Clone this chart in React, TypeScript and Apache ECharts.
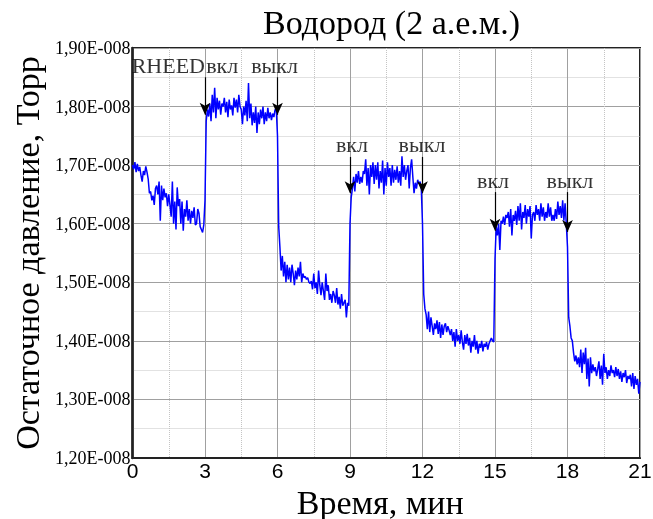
import React, { useEffect, useRef } from "react";
import * as echarts from "echarts";

// Time step between samples, minutes
const TIME_STEP = 0.05;

// Residual pressure, units of 1E-008 Torr, 0.05-min samples
const segA = [
  1.700, 1.693, 1.705, 1.688, 1.702, 1.690, 1.697, 1.683, 1.672, 1.690,
  1.683, 1.698, 1.688, 1.676, 1.652, 1.655, 1.640, 1.648, 1.632, 1.660,
  1.665, 1.650, 1.672, 1.605, 1.665, 1.640, 1.660, 1.645, 1.652, 1.630,
  1.650, 1.632, 1.612, 1.672, 1.600, 1.638, 1.590, 1.662, 1.630, 1.642,
  1.600, 1.638, 1.588, 1.625, 1.612, 1.640, 1.605, 1.625, 1.600, 1.622,
  1.610, 1.628, 1.598, 1.600, 1.625, 1.618, 1.595, 1.590, 1.585, 1.598,
];
const segB = [
  1.640, 1.775, 1.795, 1.783, 1.805, 1.775, 1.820, 1.790, 1.832, 1.780,
  1.815, 1.795, 1.810, 1.786, 1.805, 1.800, 1.815, 1.790, 1.808, 1.782,
  1.812, 1.795, 1.802, 1.785, 1.815, 1.798, 1.812, 1.790, 1.820, 1.800,
  1.795, 1.770, 1.800, 1.785, 1.810, 1.775, 1.840, 1.780, 1.805, 1.768,
  1.790, 1.772, 1.800, 1.755, 1.790, 1.770, 1.795, 1.780, 1.800, 1.770,
  1.790, 1.775, 1.798, 1.780, 1.790, 1.777, 1.788, 1.782, 1.795, 1.795,
];
const segC = [
  1.750, 1.595, 1.560, 1.520, 1.545, 1.510, 1.535, 1.500, 1.530, 1.505,
  1.525, 1.500, 1.530, 1.515, 1.495, 1.520, 1.505, 1.525, 1.510, 1.535,
  1.500, 1.515, 1.508, 1.510, 1.505, 1.508, 1.500, 1.498, 1.502, 1.488,
  1.515, 1.490, 1.500, 1.480, 1.520, 1.495, 1.478, 1.500, 1.485, 1.470,
  1.515, 1.485, 1.495, 1.470, 1.480, 1.465, 1.485, 1.478, 1.465, 1.490,
  1.462, 1.475, 1.455, 1.480, 1.460, 1.465, 1.470, 1.440, 1.465, 1.460,
];
const segD = [
  1.600, 1.645, 1.660, 1.680, 1.655, 1.685, 1.670, 1.690, 1.668, 1.680,
  1.670, 1.690, 1.685, 1.710, 1.665, 1.695, 1.650, 1.700, 1.680, 1.705,
  1.668, 1.700, 1.675, 1.705, 1.660, 1.690, 1.670, 1.708, 1.650, 1.695,
  1.665, 1.705, 1.680, 1.695, 1.665, 1.700, 1.670, 1.692, 1.675, 1.698,
  1.670, 1.690, 1.665, 1.715, 1.680, 1.700, 1.675, 1.690, 1.700, 1.660,
  1.695, 1.710, 1.680, 1.652, 1.670, 1.660, 1.675, 1.668, 1.672, 1.660,
];
const segE = [
  1.600, 1.480, 1.455, 1.445, 1.420, 1.450, 1.415, 1.440, 1.425, 1.410,
  1.430, 1.420, 1.435, 1.412, 1.432, 1.405, 1.428, 1.410, 1.425, 1.430,
  1.415, 1.425, 1.418, 1.410, 1.420, 1.400, 1.415, 1.390, 1.420, 1.400,
  1.410, 1.395, 1.418, 1.398, 1.385, 1.410, 1.395, 1.412, 1.392, 1.405,
  1.380, 1.400, 1.390, 1.410, 1.385, 1.400, 1.378, 1.395, 1.388, 1.400,
  1.382, 1.395, 1.390, 1.398, 1.385, 1.395, 1.400, 1.405, 1.400, 1.398,
];
const segF = [
  1.540, 1.595, 1.580, 1.600, 1.555, 1.605, 1.600, 1.612, 1.598, 1.615,
  1.610, 1.620, 1.595, 1.625, 1.580, 1.615, 1.605, 1.622, 1.598, 1.630,
  1.605, 1.635, 1.590, 1.620, 1.610, 1.632, 1.600, 1.625, 1.612, 1.630,
  1.575, 1.615, 1.620, 1.605, 1.632, 1.615, 1.625, 1.605, 1.635, 1.612,
  1.628, 1.605, 1.620, 1.610, 1.635, 1.612, 1.628, 1.605, 1.615, 1.605,
  1.625, 1.608, 1.638, 1.615, 1.630, 1.610, 1.640, 1.605, 1.635, 1.600,
];
const segG = [
  1.560, 1.440, 1.425, 1.405, 1.400, 1.380, 1.365, 1.375, 1.360, 1.372,
  1.355, 1.385, 1.345, 1.380, 1.360, 1.388, 1.335, 1.370, 1.322, 1.372,
  1.345, 1.360, 1.348, 1.355, 1.340, 1.352, 1.365, 1.335, 1.358, 1.325,
  1.378, 1.345, 1.355, 1.335, 1.350, 1.340, 1.358, 1.345, 1.350, 1.338,
  1.355, 1.340, 1.352, 1.335, 1.348, 1.330, 1.345, 1.338, 1.350, 1.328,
  1.340, 1.335, 1.342, 1.322, 1.345, 1.318, 1.340, 1.325, 1.335, 1.310,
  1.330,
];

// Arrows (RHEED on/off)
const arrowTimes = [3, 6, 9, 12, 15, 18];
const arrowStart = [1.850, 1.850, 1.714, 1.714, 1.654, 1.654];
const arrowEnd = [1.786, 1.786, 1.652, 1.652, 1.588, 1.586];

// Annotation labels
const labelTexts = ["RHEED", "вкл", "выкл", "вкл", "выкл", "вкл", "выкл"];
const labelTimes = [3, 3.05, 5.88, 9.08, 11.98, 14.92, 18.1];
const labelValues = [1.870, 1.870, 1.870, 1.735, 1.735, 1.6736, 1.6736];
const labelAligns = ["right", "left", "center", "center", "center", "center", "center"];

const SERIF = "Liberation Serif";
const SANS = "Liberation Sans";

export default function App() {
  const ref = useRef<HTMLDivElement>(null);
  useEffect(() => {
    if (!ref.current) return;
    const chart = echarts.init(ref.current, null, { renderer: "svg" });
    const pressure = [...segA, ...segB, ...segC, ...segD, ...segE, ...segF, ...segG];
    const lineData = pressure.map((v, i) => [+(i * TIME_STEP).toFixed(2), v]);
    const arrows = arrowTimes.map((t, i) => [
      { coord: [t, arrowStart[i]] },
      { coord: [t, arrowEnd[i]] },
    ]);
    const labels = labelTexts.map((txt, i) => ({
      value: [labelTimes[i], labelValues[i]],
      label: { formatter: txt, align: labelAligns[i] },
    }));
    chart.setOption({
      animation: false,
      title: {
        text: "Водород (2 а.е.м.)",
        left: 258,
        top: 0,
        textStyle: { fontFamily: SERIF, fontSize: 34, fontWeight: "normal", color: "#000" },
      },
      grid: {
        left: 132.5,
        right: 13,
        top: 48,
        bottom: 61,
        outerBoundsMode: "none",
        containLabel: false,
        show: true,
        borderColor: "#222",
        borderWidth: 2,
      },
      xAxis: {
        type: "value",
        min: 0,
        max: 21,
        interval: 3,
        name: "Время, мин",
        nameLocation: "middle",
        nameGap: 23,
        nameTextStyle: { fontFamily: SERIF, fontSize: 34, color: "#000", padding: [0, 12, 0, 0] },
        axisLine: { show: true, onZero: false, lineStyle: { color: "#222", width: 2 } },
        axisTick: { show: false },
        axisLabel: { fontFamily: SANS, fontSize: 21, color: "#000", margin: 2, hideOverlap: false },
        splitLine: { show: true, lineStyle: { color: "#a0a0a0", width: 1 } },
        minorTick: { show: false, splitNumber: 2 },
        minorSplitLine: { show: true, lineStyle: { color: "#c4c4c4", type: "dotted", width: 1 } },
      },
      yAxis: {
        type: "value",
        min: 1.2,
        max: 1.9,
        interval: 0.1,
        name: "Остаточное давление, Торр",
        nameLocation: "middle",
        nameRotate: 90,
        nameGap: 86,
        nameTextStyle: { fontFamily: SERIF, fontSize: 34, color: "#000" },
        axisLine: { show: true, onZero: false, lineStyle: { color: "#222", width: 2.5 } },
        axisTick: { show: false },
        axisLabel: {
          fontFamily: SERIF,
          fontSize: 18,
          color: "#000",
          margin: 2,
          formatter: (v: number) => v.toFixed(2).replace(".", ",") + "E-008",
        },
        splitLine: { show: true, lineStyle: { color: "#a0a0a0", width: 1 } },
        minorTick: { show: false, splitNumber: 2 },
        minorSplitLine: { show: true, lineStyle: { color: "#c4c4c4", type: "dotted", width: 1 } },
      },
      series: [
        {
          type: "line",
          data: lineData,
          showSymbol: false,
          symbol: "none",
          lineStyle: { color: "#0000ff", width: 1.5 },
          z: 3,
          markLine: {
            silent: true,
            symbol: ["none", "arrow"],
            symbolSize: [8, 12],
            label: { show: false },
            lineStyle: { color: "#000", width: 1.2, type: "solid" },
            data: arrows,
            z: 5,
          },
        },
        {
          type: "scatter",
          data: labels,
          symbolSize: 1,
          itemStyle: { color: "transparent" },
          silent: true,
          label: {
            show: true,
            position: "inside",
            fontFamily: SERIF,
            fontSize: 22,
            color: "#000",
          },
          z: 6,
        },
      ],
    });
    return () => chart.dispose();
  }, []);
  return (
    <div
      ref={ref}
      style={{ position: "fixed", left: 0, top: 0, width: 653, height: 519 }}
    />
  );
}
